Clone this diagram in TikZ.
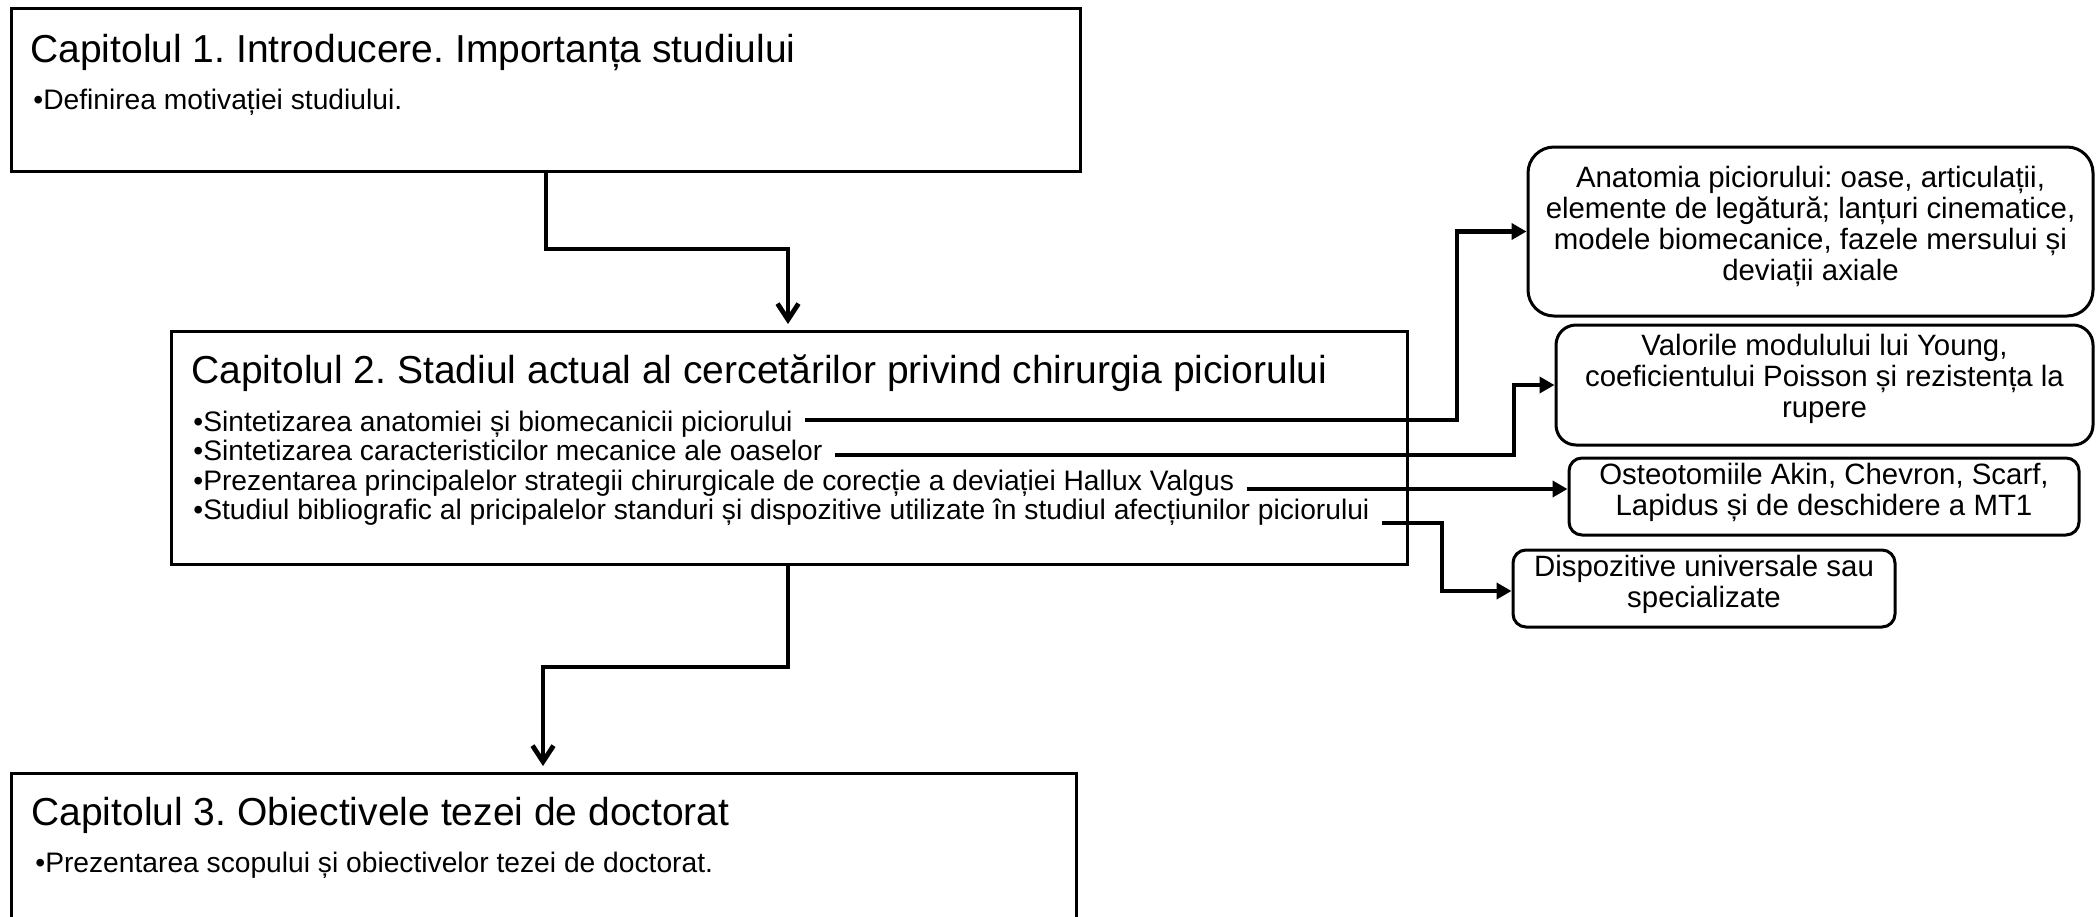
\documentclass[tikz,border=0pt]{standalone}
\usepackage{fontspec}
\setmainfont{Liberation Sans}
\usetikzlibrary{arrows.meta}
\frenchspacing
\begin{document}
\begin{tikzpicture}[x=0.5pt,y=-0.5pt,
  chbox/.style={draw, line width=1.7pt, rectangle, inner sep=0pt, anchor=north west},
  rbox/.style={draw, line width=1.5pt, rectangle, inner sep=0pt},
  ttl/.style={anchor=base west, inner sep=0pt, font=\fontsize{19.5}{22}\selectfont},
  bul/.style={anchor=base west, inner sep=0pt, font=\fontsize{14.1}{15}\selectfont},
  rtext/.style={align=center, inner sep=0pt, font=\fontsize{14.7}{15.5}\selectfont},
  conn/.style={line width=2.4pt, shorten <=6pt, -{Triangle[length=7.5pt,width=8pt]}},
  vconn/.style={line width=2.4pt, shorten >=3pt, -{Straight Barb[length=8pt,width=10.5pt]}}]
\useasboundingbox (0,0) rectangle (2098,916);
\clip (0,0) rectangle (2098,916);
\fill[white] (0,0) rectangle (2098,916);

% chapter boxes
\node[chbox, minimum width=534.5pt, minimum height=81.5pt] (box1) at (10,7) {};
\node[chbox, minimum width=618pt, minimum height=116.5pt] (box2) at (170,330) {};
\node[chbox, minimum width=532.5pt, minimum height=94pt] (box3) at (10,772) {};

% chapter texts
\node[ttl] (t1) at (30,62) {Capitolul 1. Introducere. Importanța studiului};
\node[bul] (d1) at (33,109) {•Definirea motivației studiului.};

\node[ttl] (t2) at (191,383.5) {Capitolul 2. Stadiul actual al cercetărilor privind chirurgia piciorului};
\node[bul] (b1) at (193,431) {•Sintetizarea anatomiei și biomecanicii piciorului};
\node[bul] (b2) at (193,460.5) {•Sintetizarea caracteristicilor mecanice ale oaselor};
\node[bul] (b3) at (193,490) {•Prezentarea principalelor strategii chirurgicale de corecție a deviației Hallux Valgus};
\node[bul] (b4) at (193,519.5) {•Studiul bibliografic al pricipalelor standuri și dispozitive utilizate în studiul afecțiunilor piciorului};

\node[ttl] (t3) at (31,825) {Capitolul 3. Obiectivele tezei de doctorat};
\node[bul] (d3) at (35,872) {•Prezentarea scopului și obiectivelor tezei de doctorat.};

% right boxes
\node[rbox, rounded corners=13pt, minimum width=282.5pt, minimum height=84.5pt] (R1) at (1810.5,231.5) {};
\node[rbox, rounded corners=10pt, minimum width=268.5pt, minimum height=60pt] (R2) at (1824.5,385) {};
\node[rbox, rounded corners=6.5pt, minimum width=255pt, minimum height=38.5pt] (R3) at (1824,496.5) {};
\node[rbox, rounded corners=6.5pt, minimum width=191pt, minimum height=38.5pt] (R4) at (1704,588.5) {};

\node[rtext] (R1t) at ([yshift=2.5pt]R1.center) {Anatomia piciorului: oase, articulații,\\elemente de legătură; lanțuri cinematice,\\modele biomecanice, fazele mersului și\\deviații axiale};
\node[rtext] (R2t) at ([yshift=3pt]R2.center) {Valorile modulului lui Young,\\coeficientului Poisson și rezistența la\\rupere};
\node[rtext] (R3t) at ([yshift=2.2pt]R3.center) {Osteotomiile Akin, Chevron, Scarf,\\Lapidus și de deschidere a MT1};
\node[rtext] (R4t) at ([yshift=2pt]R4.center) {Dispozitive universale sau\\specializate};

% helper coordinates
\coordinate (y1) at (0,420);
\coordinate (y2) at (0,455);
\coordinate (y3) at (0,489);
\coordinate (y4) at (0,523);
\coordinate (y4b) at (0,591);
\coordinate (xa) at (546,0);
\coordinate (xb) at (788,0);
\coordinate (xc) at (543,0);

% connectors to the right boxes
\draw[conn] (b1.east |- y1) -- (1457,420) |- (R1.west);
\draw[conn] (b2.east |- y2) -- (1514,455) |- (R2.west);
\draw[conn] (b3.east |- y3) -- (R3.west |- y3);
\draw[conn] (b4.east |- y4) -- (1442,523) |- (R4.west |- y4b);

% vertical flow
\draw[vconn] (xa |- box1.south) -- (546,249) -| (xb |- box2.north);
\draw[vconn] (xb |- box2.south) -- (788,667) -| (xc |- box3.north);
\end{tikzpicture}
\end{document}
